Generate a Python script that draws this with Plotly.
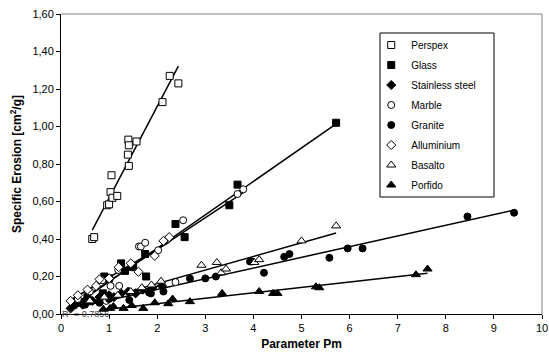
import numpy as np
import plotly.graph_objects as go

# ---- data ----
perspex_x = [0.65, 0.69, 0.96, 1.00, 1.03, 1.07, 1.17, 1.05, 1.39, 1.40, 1.41, 1.41, 1.57, 2.11, 2.26, 2.44]
perspex_y = [0.40, 0.41, 0.58, 0.585, 0.65, 0.62, 0.63, 0.74, 0.85, 0.93, 0.90, 0.79, 0.92, 1.13, 1.27, 1.23]

glass_x = [0.36, 0.55, 0.87, 0.90, 1.00, 1.25, 1.33, 1.50, 1.75, 1.77, 2.38, 2.57, 3.50, 3.67, 5.72]
glass_y = [0.06, 0.09, 0.11, 0.20, 0.19, 0.27, 0.23, 0.25, 0.32, 0.20, 0.48, 0.41, 0.58, 0.69, 1.02]

steel_x = [0.20, 0.30, 0.45, 0.55, 0.65, 0.80, 0.90, 1.00, 1.10, 1.25, 1.40, 1.55, 1.70, 1.90, 2.10]
steel_y = [0.03, 0.05, 0.05, 0.07, 0.07, 0.09, 0.08, 0.10, 0.09, 0.11, 0.12, 0.11, 0.13, 0.14, 0.15]

marble_x = [0.35, 0.60, 0.86, 0.94, 1.03, 1.19, 1.21, 1.62, 1.66, 1.75, 2.02, 2.22, 2.38, 2.54, 3.67, 3.79]
marble_y = [0.08, 0.12, 0.18, 0.07, 0.15, 0.235, 0.15, 0.36, 0.36, 0.38, 0.34, 0.40, 0.17, 0.50, 0.64, 0.665]

granite_x = [0.50, 0.80, 1.00, 1.42, 1.83, 1.87, 2.13, 2.68, 3.00, 3.22, 3.93, 3.97, 4.22, 4.64, 4.75, 5.58, 5.96, 6.27, 8.45, 9.42]
granite_y = [0.05, 0.06, 0.08, 0.075, 0.115, 0.11, 0.12, 0.19, 0.19, 0.20, 0.28, 0.28, 0.22, 0.305, 0.32, 0.30, 0.35, 0.35, 0.52, 0.54]

allum_x = [0.20, 0.35, 0.55, 0.73, 0.80, 1.00, 1.20, 1.45, 1.61, 1.95, 2.13, 2.25]
allum_y = [0.07, 0.10, 0.13, 0.15, 0.185, 0.19, 0.25, 0.27, 0.225, 0.31, 0.39, 0.41]

basalto_x = [0.60, 0.90, 1.18, 1.45, 1.68, 1.88, 2.08, 2.92, 3.24, 3.33, 3.43, 4.02, 4.12, 5.00, 5.72]
basalto_y = [0.07, 0.09, 0.10, 0.12, 0.14, 0.155, 0.175, 0.26, 0.275, 0.22, 0.24, 0.275, 0.29, 0.39, 0.47]

porfido_x = [0.88, 1.02, 1.09, 1.30, 1.47, 1.71, 1.95, 2.23, 2.32, 2.68, 3.35, 4.12, 4.41, 4.50, 5.30, 5.37, 7.38, 7.62]
porfido_y = [0.025, 0.03, 0.04, 0.03, 0.045, 0.03, 0.06, 0.055, 0.08, 0.066, 0.11, 0.12, 0.11, 0.11, 0.145, 0.14, 0.21, 0.24]

series_names = ["Perspex", "Glass", "Stainless steel", "Marble", "Granite", "Alluminium", "Basalto", "Porfido"]
y_ticks = [0.0, 0.2, 0.4, 0.6, 0.8, 1.0, 1.2, 1.4, 1.6]
y_ticklabels = ["0,00", "0,20", "0,40", "0,60", "0,80", "1,00", "1,20", "1,40", "1,60"]
x_ticks = list(range(0, 11))
r2_label = "R² = 0,7856"

series = [
    (perspex_x, perspex_y, "square", "white", 7),
    (glass_x, glass_y, "square", "black", 7),
    (steel_x, steel_y, "diamond", "black", 7),
    (marble_x, marble_y, "circle", "white", 7),
    (granite_x, granite_y, "circle", "black", 7),
    (allum_x, allum_y, "diamond", "white", 7),
    (basalto_x, basalto_y, "triangle-up", "white", 8),
    (porfido_x, porfido_y, "triangle-up", "black", 8),
]

fig = go.Figure()

# linear trend lines (least squares over each data range)
for (xs, ys, *_rest) in series:
    xa, ya = np.array(xs), np.array(ys)
    m, b = np.polyfit(xa, ya, 1)
    xl = np.array([xa.min(), xa.max()])
    fig.add_trace(go.Scatter(x=xl, y=m * xl + b, mode="lines",
                             line=dict(color="black", width=1.5),
                             showlegend=False, hoverinfo="skip"))

for name, (xs, ys, sym, fill, size) in zip(series_names, series):
    fig.add_trace(go.Scatter(
        x=xs, y=ys, mode="markers", name=name, legendgroup=name,
        marker=dict(symbol=sym, color=fill, size=size,
                    line=dict(color="black", width=1)),
    ))

fig.add_annotation(x=0, y=0, xref="x", yref="y", text=r2_label, showarrow=False,
                   xanchor="left", yanchor="middle", xshift=-1,
                   font=dict(family="Liberation Sans, Arial", size=9, color="#444444"))

# grey top/right frame lines
fig.add_shape(type="line", xref="x domain", yref="y domain", x0=0, x1=1, y0=1, y1=1,
              line=dict(color="#808080", width=1))
fig.add_shape(type="line", xref="x domain", yref="y domain", x0=1, x1=1, y0=0, y1=1,
              line=dict(color="#808080", width=1))
# legend box
fig.add_shape(type="rect", xref="paper", yref="paper",
              x0=0.6632, x1=0.9002, y0=0.39, y1=0.9367,
              line=dict(color="black", width=1), fillcolor="rgba(0,0,0,0)", layer="above")

fig.update_layout(
    width=549, height=361,
    margin=dict(l=61, r=7, t=14, b=47),
    paper_bgcolor="white", plot_bgcolor="white",
    font=dict(family="Liberation Sans, Arial", size=11, color="black"),
    legend=dict(x=0.645, y=0.945, xanchor="left", yanchor="top",
                borderwidth=0, bgcolor="rgba(255,255,255,0)",
                font=dict(size=10), tracegroupgap=1,
                itemwidth=30),
    xaxis=dict(range=[0, 10], tickvals=x_ticks, showgrid=False, zeroline=False,
               showline=True, linecolor="black", linewidth=1, automargin=False,
               ticks="outside", ticklen=4, tickcolor="black",
               title=dict(text="<b>Parameter Pm</b>", font=dict(size=12), standoff=6)),
    yaxis=dict(range=[0, 1.6], tickvals=y_ticks, ticktext=y_ticklabels, showgrid=False,
               zeroline=False, showline=True, linecolor="black", linewidth=1, automargin=False,
               ticks="outside", ticklen=4, tickcolor="black",
               title=dict(text="<b>Specific Erosion [cm<sup>2</sup>/g]</b>", font=dict(size=12), standoff=8)),
)

fig.write_html("out.html", config={"displayModeBar": False},
               post_script="document.body.style.margin='0px';")
